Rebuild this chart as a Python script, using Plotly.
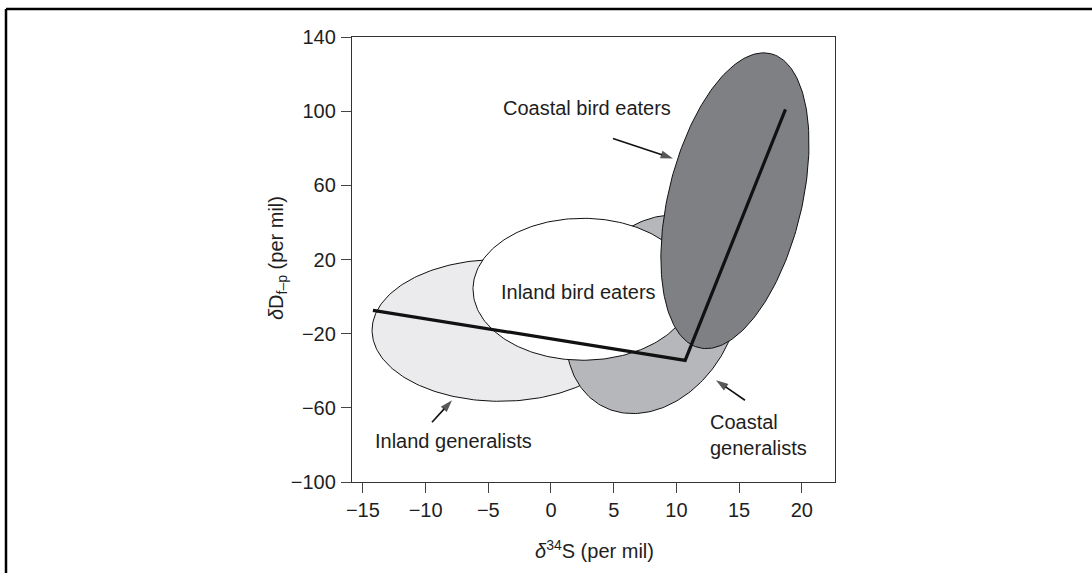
import numpy as np
import plotly.graph_objects as go

# ---------------- data ----------------
# ellipses: name, centre (x = d34S, y = dD), semi-axes (in x-axis-equivalent screen units), rotation (deg)
ell_names = ["Inland generalists", "Coastal generalists", "Inland bird eaters", "Coastal bird eaters"]
ell_cx = [-4.07, 8.13, 2.55, 14.67]
ell_cy = [-18.2, -9.55, 3.94, 51.7]
ell_a = [10.2, 8.37, 8.77, 12.07]
ell_b = [5.66, 6.38, 5.66, 5.32]
ell_rot = [0.0, 60.0, 0.0, 76.3]
ell_fill = ["#ebebed", "#b6b7bb", "#ffffff", "#7f8083"]

# thick trend line
line_x = [-14.2, 10.7, 18.7]
line_y = [-7.4, -34.4, 101.0]

# labels: text, x, y, anchor
lab_text = ["Coastal bird eaters", "Inland bird eaters", "Inland generalists", "Coastal<br>generalists"]
lab_x = [2.87, 2.19, -7.74, 12.52]
lab_y = [101.6, 2.3, -77.9, -74.4]
lab_anchor = ["center", "center", "center", "left"]

# arrows: tail -> head
arr_tx = [4.94, -9.49, 15.47]
arr_ty = [85.3, -67.8, -55.9]
arr_hx = [9.73, -7.89, 13.16]
arr_hy = [74.5, -55.9, -45.1]

x_ticks = [-15, -10, -5, 0, 5, 10, 15, 20]
y_ticks = [-100, -60, -20, 20, 60, 100, 140]
x_range = [-15.87, 22.65]
y_range = [-100, 140]

# ---------------- layout geometry ----------------
W, H = 1092, 573
ml, mr, mt, mb = 352, 257, 37, 91
pw, ph = W - ml - mr, H - mt - mb
xpx = pw / (x_range[1] - x_range[0])
ypx = ph / (y_range[1] - y_range[0])

FONT = "Liberation Sans, Arial, Helvetica, sans-serif"
TXT = "#1e1e1e"
FS = 20

fig = go.Figure()

t = np.linspace(0, 2 * np.pi, 241)
for name, cx, cy, a, b, r, col in zip(ell_names, ell_cx, ell_cy, ell_a, ell_b, ell_rot, ell_fill):
    th = np.deg2rad(r)
    u = a * xpx * np.cos(t)
    v = b * xpx * np.sin(t)
    dx = u * np.cos(th) - v * np.sin(th)
    dy = u * np.sin(th) + v * np.cos(th)
    fig.add_trace(go.Scatter(
        x=cx + dx / xpx, y=cy + dy / ypx, mode="lines", fill="toself",
        fillcolor=col, line=dict(color="#111111", width=1), name=name,
        hoverinfo="name", showlegend=False))

fig.add_trace(go.Scatter(x=line_x, y=line_y, mode="lines",
                         line=dict(color="#111111", width=3.2), showlegend=False,
                         hoverinfo="skip"))

# arrows as line + arrow-head marker
for tx, ty, hx, hy in zip(arr_tx, arr_ty, arr_hx, arr_hy):
    fig.add_trace(go.Scatter(
        x=[tx, hx], y=[ty, hy], mode="lines+markers",
        line=dict(color="#111111", width=1.6),
        marker=dict(symbol="arrow", size=[0, 13], angleref="previous",
                    color="#111111", line=dict(width=0)),
        showlegend=False, hoverinfo="skip"))

for txt, x, y, anc in zip(lab_text, lab_x, lab_y, lab_anchor):
    fig.add_annotation(x=x, y=y, text=txt, showarrow=False, xanchor=anc, yanchor="middle",
                       align="left", font=dict(family=FONT, size=FS, color=TXT))

# axis titles
fig.add_annotation(xref="paper", yref="paper", x=(594 - ml) / pw, y=(H - mb - 549) / ph,
                   xanchor="center", yanchor="middle",
                   text="<i>δ</i><sup>34</sup>S (per mil)", showarrow=False,
                   font=dict(family=FONT, size=FS, color=TXT))
fig.add_annotation(xref="paper", yref="paper", x=(277 - ml) / pw, y=(H - mb - 258) / ph,
                   xanchor="center", yanchor="middle",
                   text="<i>δ</i>D<sub>f–p</sub> (per mil)", showarrow=False, textangle=-90,
                   font=dict(family=FONT, size=FS, color=TXT))

# outer frame (top and left edges)
def px_x(p):
    return (p - ml) / pw

def px_y(p):
    return (H - mb - p) / ph

fig.add_shape(type="line", xref="paper", yref="paper", x0=px_x(6), x1=px_x(W + 5),
              y0=px_y(9), y1=px_y(9), line=dict(color="black", width=2.5))
fig.add_shape(type="line", xref="paper", yref="paper", x0=px_x(6), x1=px_x(6),
              y0=px_y(9), y1=px_y(H + 5), line=dict(color="black", width=2.5))

axis_common = dict(showgrid=False, zeroline=False, showline=True, mirror=True,
                   linecolor="#333333", linewidth=1.3, ticks="outside", ticklen=10,
                   tickwidth=1.3, tickcolor="#444444",
                   tickfont=dict(family=FONT, size=FS, color=TXT))

fig.update_xaxes(range=x_range, tickvals=x_ticks,
                 ticktext=[str(v).replace("-", "−") for v in x_ticks], **axis_common)
fig.update_yaxes(range=y_range, tickvals=y_ticks,
                 ticktext=[str(v).replace("-", "−") for v in y_ticks],
                 ticklabelstandoff=1, **axis_common)

fig.update_layout(width=W, height=H, margin=dict(l=ml, r=mr, t=mt, b=mb),
                  paper_bgcolor="white", plot_bgcolor="white", showlegend=False,
                  font=dict(family=FONT, size=FS, color=TXT))

fig.write_html("out.html", config={"displayModeBar": False},
               post_script="document.body.style.margin='0px';")
